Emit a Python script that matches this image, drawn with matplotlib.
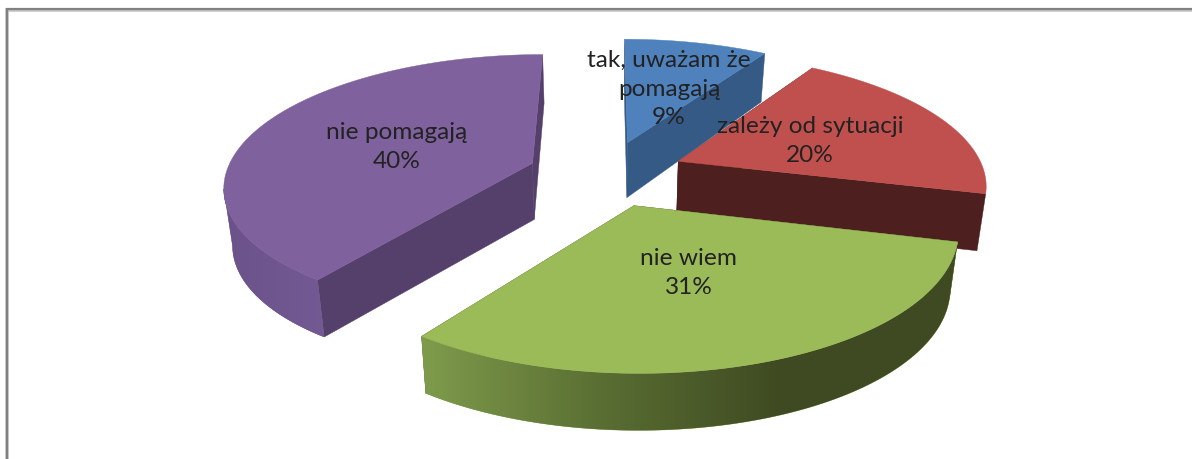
import numpy as np
import matplotlib
matplotlib.use('Agg')
import matplotlib.pyplot as plt
from matplotlib.colors import LinearSegmentedColormap

labels = ['tak, uważam że\npomagają', 'zależy od sytuacji', 'nie wiem', 'nie pomagają']
values = [9, 20, 31, 40]
top_colors = ['#4f81bd', '#c0504d', '#9bbb59', '#7f619d']
face_colors = ['#355a85', '#4d1f1e', '#3f4a22', '#553f6b']
wall_ramps = [None, None, ['#7f9c4c', '#5a6e33', '#3f4a22', '#3f4a22'], ['#6b5289', '#735a94']]
ramp_extent = [None, None, (420, 960), (222, 330)]

# projection of the pie plane, fitted on the picture
X0, Y0 = 606.3, 173.3
RX, RY = 306.6, 129.1
PERSP = 0.1605
EXPLODE = 0.2562
DEPTH = 57
SHRINK = 0.977

plt.rcParams['font.family'] = ['Lato', 'DejaVu Sans']

fracs = np.array(values) / sum(values)
edges = np.concatenate([[0], np.cumsum(fracs)]) * 2 * np.pi
mids = (edges[:-1] + edges[1:]) / 2


def project(u, v, low=False):
    w = 1 - PERSP * v
    x = X0 + RX * u / w
    y = Y0 + RY * v / w
    if low:
        x = X0 + (x - X0) * SHRINK
        y = y + DEPTH / (1 - PERSP * np.minimum(v, 0))
    return x, y


fig = plt.figure(figsize=(11.92, 4.59), dpi=100)
ax = fig.add_axes([0, 0, 1, 1])

# frame of the chart area
ax.plot([7, 7, 1192], [459, 9.5, 9.5], color='#c4c4c4', lw=2.6, solid_joinstyle='miter', zorder=0)
ax.plot([6.5, 6.5, 1192], [459, 8.5, 8.5], color='#808080', lw=1.6, solid_joinstyle='miter', zorder=0)

z = 1
# back to front
for i in [0, 3, 1, 2]:
    au = EXPLODE * np.sin(mids[i])
    av = -EXPLODE * np.cos(mids[i])
    t = np.linspace(edges[i], edges[i + 1], 160)
    u = au + np.sin(t)
    v = av - np.cos(t)

    # cut faces, far one first
    ends = [0, -1] if v[0] < v[-1] else [-1, 0]
    for n in ends:
        x1, y1 = project(np.array([au, u[n]]), np.array([av, v[n]]))
        x2, y2 = project(np.array([u[n], au]), np.array([v[n], av]), low=True)
        ax.fill(np.r_[x1, x2], np.r_[y1, y2], color=face_colors[i], lw=0.3, zorder=z)
        z += 1

    # round side, up to where the outline turns back on the left
    xt, yt = project(u, v)
    xb, yb = project(u, v, low=True)
    if wall_ramps[i]:
        front = t <= t[np.argmin(xt)]
        poly = ax.fill(np.r_[xt[front], xb[front][::-1]], np.r_[yt[front], yb[front][::-1]],
                       color=wall_ramps[i][0], lw=0.3, zorder=z)[0]
        z += 1
        cmap = LinearSegmentedColormap.from_list('wall%d' % i, wall_ramps[i])
        x_lo, x_hi = ramp_extent[i]
        im = ax.imshow(np.linspace(0, 1, 256)[None, :], cmap=cmap, aspect='auto',
                       extent=(x_lo, x_hi, 459, 0), zorder=z)
        im.set_clip_path(poly)
        z += 1

    # top
    xa, ya = project(np.array([au]), np.array([av]))
    ax.fill(np.r_[xa, xt], np.r_[ya, yt], color=top_colors[i], lw=0.3, zorder=z)
    z += 1

label_pos = [(669, 89), (810, 141), (689, 273), (397, 147)]
for i in range(4):
    ax.text(label_pos[i][0], label_pos[i][1], '%s\n%d%%' % (labels[i], values[i]),
            ha='center', va='center', fontsize=17.6, color='#222222', linespacing=1.45, zorder=z)

ax.set_xlim(0, 1192)
ax.set_ylim(459, 0)
ax.axis('off')

fig.savefig('out.png', dpi=100)
